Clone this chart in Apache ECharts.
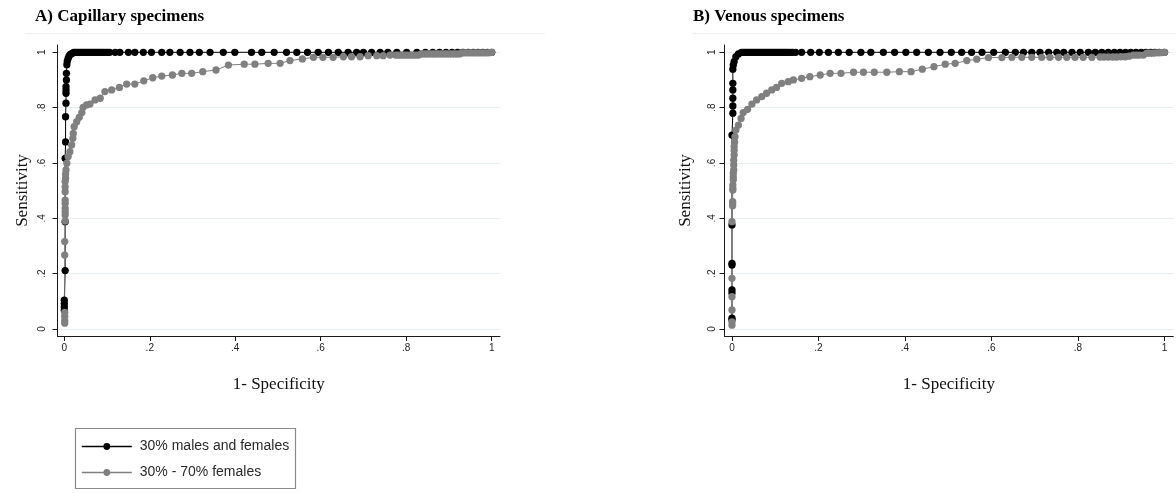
<!DOCTYPE html>
<html><head><meta charset="utf-8">
<script src="https://cdn.jsdelivr.net/npm/echarts@6/dist/echarts.min.js"></script>
<style>html,body{margin:0;padding:0;background:#fff}#c{width:1176px;height:493px}</style>
</head><body><div id="c"></div>
<script>
// ---------- data ----------
const tickValues = [0, 0.2, 0.4, 0.6, 0.8, 1];
const tickLabels = ['0', '.2', '.4', '.6', '.8', '1'];
const seriesNames = ['30% males and females', '30% - 70% females'];
const panelTitles = ['A) Capillary specimens', 'B) Venous specimens'];
const xTitle = '1- Specificity';
const yTitle = 'Sensitivity';

// Panel A: capillary, black curve
const capBlackX = [0,0,0,0,0.002,0.002,0.002,0.003,0.003,0.004,0.004,0.004,0.004,0.005,0.005,0.006,0.007,0.009,0.011,0.014,0.018,0.022,
  0.026,0.030,0.034,0.038,0.042,0.046,0.050,0.054,0.058,0.062,0.066,0.070,0.074,0.078,0.082,0.086,0.090,0.094,0.098,0.102,0.106,
  0.119,0.130,0.150,0.165,0.185,0.204,0.228,0.247,0.271,0.294,0.316,0.341,0.372,0.399,0.438,0.462,0.491,0.520,0.544,0.569,0.594,0.618,0.641,0.664,0.684,0.700,0.719,0.739,0.757,0.778,0.801,0.825,0.845,0.862,0.878,0.893,0.907,0.920,0.933,0.945,0.957,0.968,0.979,0.990,1.0];
const capBlackY = [0.068,0.080,0.092,0.104,0.211,0.388,0.617,0.676,0.767,0.816,0.852,0.864,0.876,0.900,0.924,0.955,0.968,0.978,0.986,0.992,0.996,1,
  1,1,1,1,1,1,1,1,1,1,1,1,1,1,1,1,1,1,1,1,1,
  1,1,1,1,1,1,1,1,1,1,1,1,1,1,1,1,1,1,1,1,1,1,1,1,1,1,1,1,1,1,1,1,1,1,1,1,1,1,1,1,1,1,1,1,1];

// Panel A: capillary, grey curve
const capGrayX = [0.001,0.001,0.001,0.001,0.001,0.001,0.002,0.002,0.002,0.002,0.002,0.002,0.002,0.002,0.002,0.003,0.003,0.004,0.006,0.009,0.013,0.017,0.020,0.021,0.023,0.029,0.035,0.041,0.044,0.052,0.060,0.072,0.084,0.095,0.111,0.129,0.146,0.165,0.186,0.207,0.228,0.253,0.275,0.298,0.324,0.355,0.384,0.421,0.446,0.477,0.505,0.528,0.557,0.583,0.605,0.629,0.653,0.672,0.692,0.711,0.731,0.746,0.762,
  0.775,0.781,0.787,0.793,0.799,0.805,0.811,0.817,0.823,0.829,
  0.835,0.841,0.847,0.853,0.859,0.865,0.871,0.877,0.883,0.889,0.895,0.901,0.907,0.913,0.919,0.925,
  0.931,0.937,0.943,0.949,0.955,0.961,0.967,0.973,0.979,0.985,0.991,0.996,1.0];
const capGrayY = [0.021,0.030,0.045,0.060,0.267,0.316,0.390,0.412,0.424,0.436,0.454,0.466,0.496,0.514,0.533,0.545,0.560,0.575,0.599,0.623,0.641,0.665,0.689,0.707,0.731,0.749,0.765,0.782,0.801,0.810,0.813,0.828,0.834,0.858,0.864,0.873,0.885,0.885,0.897,0.908,0.914,0.918,0.924,0.924,0.930,0.936,0.954,0.957,0.957,0.960,0.960,0.970,0.976,0.982,0.982,0.982,0.984,0.984,0.984,0.988,0.988,0.988,0.990,
  0.990,0.990,0.990,0.990,0.990,0.990,0.990,0.990,0.990,0.990,
  0.994,0.994,0.994,0.994,0.994,0.994,0.994,0.994,0.994,0.994,0.994,0.994,0.994,0.994,0.994,0.994,
  0.998,0.998,0.998,0.998,0.998,0.998,0.998,0.998,0.998,0.998,0.998,0.999,1.0];

// Panel B: venous, black curve
const venBlackX = [0,0,0,0,0,0,0,0,0.002,0.002,0.002,0.002,0.002,0.002,0.003,0.005,0.009,0.015,0.022,
  0.026,0.030,0.034,0.038,0.042,0.046,0.050,0.054,0.058,0.062,0.066,0.070,0.074,0.078,0.082,0.086,0.090,0.094,0.098,0.102,0.106,0.110,0.114,0.118,0.122,0.126,0.130,0.135,0.140,0.147,
  0.161,0.182,0.202,0.223,0.246,0.271,0.298,0.321,0.350,0.376,0.402,0.427,0.454,0.481,0.507,0.531,0.554,0.578,0.605,0.632,0.655,0.674,0.693,0.712,0.732,0.751,0.767,0.786,0.805,0.824,0.840,0.855,0.870,0.884,0.897,0.910,0.922,0.934,0.946,0.957,0.968,0.978,0.988,1.0];
const venBlackY = [0.033,0.039,0.130,0.141,0.231,0.237,0.376,0.701,0.780,0.806,0.834,0.864,0.888,0.939,0.954,0.966,0.984,0.994,1,
  1,1,1,1,1,1,1,1,1,1,1,1,1,1,1,1,1,1,1,1,1,1,1,1,1,1,1,1,1,1,
  1,1,1,1,1,1,1,1,1,1,1,1,1,1,1,1,1,1,1,1,1,1,1,1,1,1,1,1,1,1,1,1,1,1,1,1,1,1,1,1,1,1,1,1];

// Panel B: venous, grey curve
const venGrayX = [0,0,0,0,0,0,0.0015,0.0015,0.0015,0.002,0.002,0.002,0.003,0.003,0.003,0.004,0.004,0.004,0.005,0.005,0.005,0.006,0.007,0.009,0.015,0.021,0.026,0.036,0.046,0.057,0.069,0.080,0.092,0.103,0.115,0.130,0.142,0.161,0.180,0.204,0.227,0.252,0.281,0.304,0.329,0.358,0.387,0.414,0.440,0.467,0.493,0.516,0.543,0.566,0.593,0.624,0.647,0.670,0.693,0.716,0.735,0.755,0.774,0.793,0.812,0.832,0.851,0.860,0.870,0.880,0.889,0.899,0.909,0.918,0.928,0.935,0.942,0.951,0.959,0.966,0.973,0.980,0.987,0.993,1.0];
const venGrayY = [0.014,0.026,0.069,0.117,0.183,0.388,0.445,0.454,0.460,0.502,0.508,0.520,0.539,0.550,0.563,0.575,0.593,0.610,0.629,0.645,0.659,0.675,0.695,0.719,0.737,0.761,0.782,0.794,0.813,0.828,0.840,0.852,0.864,0.873,0.888,0.894,0.900,0.906,0.912,0.918,0.924,0.924,0.928,0.928,0.928,0.928,0.930,0.930,0.939,0.948,0.957,0.960,0.970,0.975,0.981,0.981,0.982,0.982,0.982,0.982,0.982,0.982,0.982,0.982,0.982,0.982,0.983,0.983,0.983,0.983,0.983,0.984,0.984,0.986,0.990,0.990,0.990,0.990,0.997,0.997,0.997,0.998,0.998,0.999,1.0];

// ---------- styling / layout ----------
function hasFont(name) {
  const c = document.createElement('canvas').getContext('2d');
  const t = '30% males and females';
  c.font = '40px monospace'; const a = c.measureText(t).width;
  c.font = '40px "' + name + '", monospace'; const b = c.measureText(t).width;
  return Math.abs(a - b) > 0.5;
}
const narrow = hasFont('Liberation Sans Narrow');
const legendFont = narrow ? '"Liberation Sans Narrow"' : '"Liberation Sans", Arial, sans-serif';
const legendSize = narrow ? 17 : 14;

const SERIF = '"Liberation Serif", "Times New Roman", serif';
const SANS = '"Liberation Sans", Arial, sans-serif';
const AXIS_COLOR = '#1a1a1a';
const GRID_COLOR = '#e8eff2';
const BLACK = '#000000';
const GRAY = '#808080';

function fmt(v) {
  let best = 0;
  tickValues.forEach((t, i) => { if (Math.abs(t - v) < Math.abs(tickValues[best] - v)) best = i; });
  return tickLabels[best];
}

const panels = [
  { left: 57.5, width: 442.5, xmin: -0.0159, xmax: 1.0194, yGap: 26, yLabelMargin: 10 },
  { left: 724.5, width: 448.8, xmin: -0.0173, xmax: 1.0203, yGap: 30, yLabelMargin: 7 }
];

const grids = panels.map(p => ({ left: p.left, top: 45, width: p.width, height: 291, containLabel: false }));
const xAxes = panels.map((p, i) => ({
  type: 'value', gridIndex: i, min: p.xmin, max: p.xmax,
  name: xTitle, nameLocation: 'middle', nameGap: 40,
  nameTextStyle: { fontFamily: SERIF, fontSize: 17, color: '#111' },
  axisLine: { show: true, onZero: false, lineStyle: { color: AXIS_COLOR, width: 1 } },
  axisTick: { show: true, customValues: tickValues, length: 5, lineStyle: { color: AXIS_COLOR } },
  axisLabel: { show: true, customValues: tickValues, formatter: fmt, margin: 7, fontFamily: SANS, fontSize: 10, color: '#222' },
  splitLine: { show: false }
}));
const yAxes = panels.map((p, i) => ({
  type: 'value', gridIndex: i, min: -0.0253, max: 1.0264,
  name: yTitle, nameLocation: 'middle', nameGap: p.yGap, nameRotate: 90,
  nameTextStyle: { fontFamily: SERIF, fontSize: 17, color: '#111' },
  axisLine: { show: true, onZero: false, lineStyle: { color: AXIS_COLOR, width: 1 } },
  axisTick: { show: true, customValues: tickValues, length: 5, lineStyle: { color: AXIS_COLOR } },
  axisLabel: { show: true, customValues: tickValues, formatter: fmt, rotate: 90, margin: p.yLabelMargin, fontFamily: SANS, fontSize: 10, color: '#222' },
  splitLine: { show: true, lineStyle: { color: GRID_COLOR, width: 1 } }
}));

function mk(name, xs, ys, color, idx) {
  return {
    type: 'line', name: name, xAxisIndex: idx, yAxisIndex: idx,
    data: xs.map((x, i) => [x, ys[i]]),
    symbol: 'circle', symbolSize: 7.3, showSymbol: true, showAllSymbol: true,
    lineStyle: { color: color, width: 1 }, itemStyle: { color: color },
    emphasis: { disabled: true }, clip: false, animation: false
  };
}

const option = {
  backgroundColor: '#ffffff',
  animation: false,
  title: [
    { text: panelTitles[0], left: 35, top: 8, padding: 0, textStyle: { fontFamily: SERIF, fontWeight: 'bold', fontSize: 17, color: '#000' } },
    { text: panelTitles[1], left: 693, top: 8, padding: 0, textStyle: { fontFamily: SERIF, fontWeight: 'bold', fontSize: 17, color: '#000' } }
  ],
  grid: grids,
  xAxis: xAxes,
  yAxis: yAxes,
  legend: {
    data: seriesNames, orient: 'vertical', left: 81, top: 439.5, padding: 0,
    itemWidth: 50, itemHeight: 8.5, itemGap: 12, selectedMode: false,
    lineStyle: { width: 1.6 },
    textStyle: { fontFamily: legendFont, fontSize: legendSize, color: '#2a2a2a', padding: [0, 0, 0, 3] }
  },
  graphic: [
    { type: 'line', shape: { x1: 25, y1: 33.5, x2: 545, y2: 33.5 }, style: { stroke: '#eef2f4', lineWidth: 1 }, silent: true },
    { type: 'line', shape: { x1: 692, y1: 33.5, x2: 1176, y2: 33.5 }, style: { stroke: '#eef2f4', lineWidth: 1 }, silent: true },
    { type: 'rect', shape: { x: 75.5, y: 428.5, width: 220, height: 60 }, style: { fill: 'none', stroke: '#8a8a8a', lineWidth: 1.2 }, silent: true }
  ],
  series: [
    mk(seriesNames[0], capBlackX, capBlackY, BLACK, 0),
    mk(seriesNames[1], capGrayX, capGrayY, GRAY, 0),
    mk(seriesNames[0], venBlackX, venBlackY, BLACK, 1),
    mk(seriesNames[1], venGrayX, venGrayY, GRAY, 1)
  ]
};

const chart = echarts.init(document.getElementById('c'), null, { renderer: 'canvas' });
chart.setOption(option);
</script>
</body></html>
